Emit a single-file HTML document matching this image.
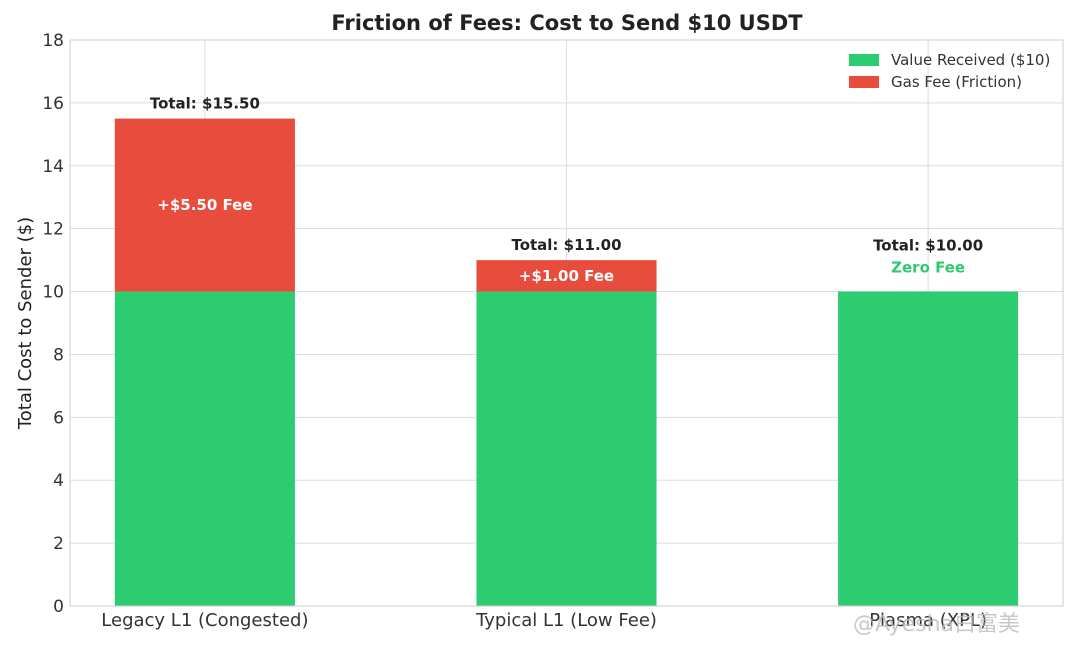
<!DOCTYPE html>
<html><head><meta charset="utf-8"><style>
body{margin:0;background:#fff;}
svg text{font-family:"DejaVu Sans","Liberation Sans","Noto Sans CJK SC",sans-serif;}
</style></head><body>
<svg id="c" width="1080" height="646" viewBox="0 0 1080 646" xmlns="http://www.w3.org/2000/svg">
<text x="567" y="30" text-anchor="middle" font-size="21" font-weight="bold" fill="#222">Friction of Fees: Cost to Send $10 USDT</text>
<g id="grid"></g>
<g id="bars"></g>
<rect x="70" y="40" width="993" height="566" fill="none" stroke="#ccc" stroke-width="1"/>
<text transform="translate(31,323) rotate(-90)" text-anchor="middle" font-size="18" fill="#222">Total Cost to Sender ($)</text>
<g>
<rect x="849" y="54" width="30" height="12" fill="#2ecc71"/>
<text x="891" y="65" font-size="15" fill="#333">Value Received ($10)</text>
<rect x="849" y="76" width="30" height="12" fill="#e74c3c"/>
<text x="891" y="87" font-size="15" fill="#333">Gas Fee (Friction)</text>
</g>
<text x="853" y="631" font-size="22" fill="#bbb" opacity="0.8">@Ayesha白富美</text>
</svg>
<script>
const categories=["Legacy L1 (Congested)","Typical L1 (Low Fee)","Plasma (XPL)"];
const baseValues=[10,10,10];
const feeValues=[5.5,1.0,0];
const yTicks=[0,2,4,6,8,10,12,14,16,18];
const NS="http://www.w3.org/2000/svg";
const L=70,R=1063,T=40,B=606,yMax=18,xMin=-0.373,xMax=2.373;
function y(v){return B-(v/yMax)*(B-T);}
function x(i){return L+(i-xMin)/(xMax-xMin)*(R-L);}
const bw=0.498*(R-L)/(xMax-xMin);
function mk(tag,attrs,parent,txt){const e=document.createElementNS(NS,tag);for(const k in attrs)e.setAttribute(k,attrs[k]);if(txt!==undefined)e.textContent=txt;parent.appendChild(e);return e;}
const grid=document.getElementById('grid'),bars=document.getElementById('bars');
yTicks.forEach(t=>{
  const l=mk('line',{x1:L,x2:R,y1:y(t),y2:y(t),stroke:'#ddd','stroke-width':1},grid);
  
  
  const tx=mk('text',{x:L-6,y:y(t)+6,'text-anchor':'end','font-size':17,fill:'#333'},grid,String(t));
  
  
});
categories.forEach((c,i)=>{
  const gl=mk('line',{x1:x(i),x2:x(i),y1:T,y2:B,stroke:'#ddd','stroke-width':1},grid);
  
  
  const cx=x(i);
  const b=mk('rect',{x:cx-bw/2,y:y(baseValues[i]),width:bw,height:y(0)-y(baseValues[i]),fill:'#2ecc71'},bars);
  
  
  const tot=baseValues[i]+feeValues[i];
  if(feeValues[i]>0){
    const f=mk('rect',{x:cx-bw/2,y:y(tot),width:bw,height:y(baseValues[i])-y(tot),fill:'#e74c3c'},bars);
    
    
    const fl=mk('text',{x:cx,y:(y(tot)+y(baseValues[i]))/2+5,'text-anchor':'middle','font-size':15,'font-weight':'bold',fill:'#fff'},bars,'+$'+feeValues[i].toFixed(2)+' Fee');
    
    
  } else {
    const z=mk('text',{x:cx,y:y(tot)-19,'text-anchor':'middle','font-size':15,'font-weight':'bold',fill:'#2ecc71'},bars,'Zero Fee');
    
    
  }
  const ty=feeValues[i]>0?y(tot)-10:y(tot)-41;
  const tl=mk('text',{x:cx,y:ty,'text-anchor':'middle','font-size':15,'font-weight':'bold',fill:'#222'},bars,'Total: $'+tot.toFixed(2));
  
  
  const xl=mk('text',{x:cx,y:B+20,'text-anchor':'middle','font-size':18,fill:'#333'},bars,c);
  
  
});
</script>
</body></html>
